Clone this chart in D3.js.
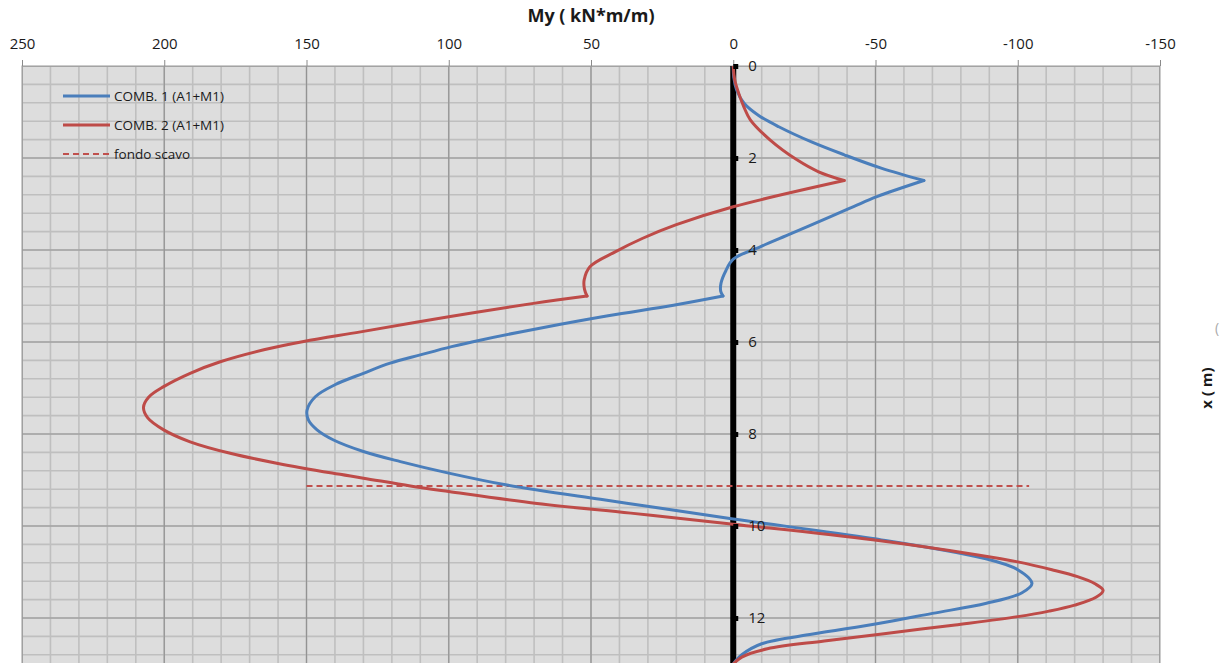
<!DOCTYPE html>
<html>
<head>
<meta charset="utf-8">
<script src="https://cdn.jsdelivr.net/npm/d3@7"></script>
<style>
html,body{margin:0;padding:0;background:#fff;overflow:hidden;}
text{font-family:"Open Sans","Noto Sans",sans-serif;}
</style>
</head>
<body>
<svg id="chart" width="1230" height="663"></svg>
<script>
// ---- data ----
const xTicks = [250, 200, 150, 100, 50, 0, -50, -100, -150];
const yTicks = [0, 2, 4, 6, 8, 10, 12];

const comb1Depth = [0, 0.25, 0.52, 0.81, 1.07, 1.32, 1.65, 1.93, 2.22, 2.49,
  2.84, 3.05, 3.28, 3.64, 3.93, 4.2, 4.45, 4.72, 4.9, 5.0,
  5.2, 5.43, 5.7, 5.96, 6.1, 6.28, 6.46, 6.68, 6.93, 7.19, 7.48, 7.7, 7.91, 8.13, 8.38, 8.6, 8.85, 9.11, 9.42, 9.58, 9.85,
  10.27, 10.7, 10.95, 11.25, 11.45, 11.68, 11.9, 12.12, 12.35, 12.56, 12.8, 13.0];
const comb1My = [0, -0.2, -1.2, -3.8, -8.8, -16, -27.5, -39, -52, -67,
  -50.5, -42.5, -34, -20.5, -9.5, 0, 2.6, 4.3, 4.4, 3.6,
  21, 44, 68, 89, 99, 110, 120.6, 130, 140, 146.9, 149.8, 149.3, 146.3, 140.5, 130, 117, 100, 79.5, 46.7, 29, 0,
  -49, -88, -100, -105, -101.5, -89, -70, -51, -28, -10, -3, 0];
const comb1Corners = [2.49, 5.0];

const comb2Depth = [0, 0.3, 0.59, 0.9, 1.17, 1.61, 2.04, 2.3, 2.49,
  3.06, 3.45, 3.75, 4.04, 4.36, 4.65, 4.85, 5.0,
  5.16, 5.45, 5.78, 5.99, 6.17, 6.43, 6.68, 6.97, 7.2, 7.42, 7.65, 7.91, 8.17, 8.42, 8.64, 8.85, 8.96, 9.13, 9.25, 9.51, 9.72, 9.96,
  10.3, 10.63, 10.78, 10.95, 11.1, 11.25, 11.4, 11.55, 11.72, 11.85, 11.97, 12.15, 12.34, 12.5, 12.67, 12.85, 13.0];
const comb2My = [0, -0.5, -1.9, -3.8, -6, -13, -22.4, -30, -39,
  0, 20, 32, 41.5, 50.3, 52.4, 52.3, 51.4,
  70.2, 100, 131, 151, 165, 180.3, 190.9, 200.2, 205.5, 207.3, 205.8, 200.2, 190.9, 176.8, 160, 141, 130, 113.5, 100, 69, 36, 0,
  -49, -86, -100, -112, -121, -127, -130, -127.5, -120, -111, -100, -78, -53, -32, -12, -3, 0];
const comb2Corners = [2.49, 5.0];

const fondoDepth = [9.13, 9.13];
const fondoMy    = [150, -104];

const legendLabels = ["COMB. 1 (A1+M1)", "COMB. 2 (A1+M1)", "fondo scavo"];
const xTitle = "My ( kN*m/m)";
const yTitle = "x ( m)";

// ---- layout ----
const svg = d3.select("#chart");
const L = 22, R = 1160, T = 66, B = 710;
const x = d3.scaleLinear().domain([250, -150]).range([L, R]);
const y = d3.scaleLinear().domain([0, 14]).range([T, B]);

svg.append("defs").append("clipPath").attr("id","clip")
  .append("rect").attr("x",L).attr("y",T).attr("width",R-L).attr("height",B-T);

svg.append("rect").attr("x",L).attr("y",T).attr("width",R-L).attr("height",B-T).attr("fill","#dddddd");

const grid = svg.append("g").attr("clip-path","url(#clip)");
const xMinor = d3.range(-150, 251, 10);
const yMinor = d3.range(0, 14.01, 0.4);
grid.selectAll(".xm").data(xMinor).join("line")
  .attr("x1",d=>x(d)).attr("x2",d=>x(d)).attr("y1",T).attr("y2",B)
  .attr("stroke","#bfbfbf").attr("stroke-width",1.6);
grid.selectAll(".ym").data(yMinor).join("line")
  .attr("y1",d=>y(d)).attr("y2",d=>y(d)).attr("x1",L).attr("x2",R)
  .attr("stroke","#bfbfbf").attr("stroke-width",1.6);
grid.selectAll(".xM").data(xTicks).join("line")
  .attr("x1",d=>x(d)).attr("x2",d=>x(d)).attr("y1",T).attr("y2",B)
  .attr("stroke","#939393").attr("stroke-width",1.2);
grid.selectAll(".yM").data(d3.range(0, 14.01, 2)).join("line")
  .attr("y1",d=>y(d)).attr("y2",d=>y(d)).attr("x1",L).attr("x2",R)
  .attr("stroke","#939393").attr("stroke-width",1.2);

svg.append("rect").attr("x",L).attr("y",T).attr("width",R-L).attr("height",B-T)
  .attr("fill","none").attr("stroke","#9a9a9a").attr("stroke-width",1);

// top axis
const xAxis = d3.axisTop(x).tickValues(xTicks).tickSize(6).tickPadding(11).tickFormat(d => String(d));
const gx = svg.append("g").attr("transform",`translate(0,${T})`).call(xAxis);
gx.select(".domain").remove();
gx.selectAll(".tick line").attr("stroke","#8a8a8a");
gx.selectAll(".tick text").attr("font-size",15).attr("fill","#1a1a1a")
  .attr("font-family","'Open Sans','Noto Sans',sans-serif");

// thick vertical axis at x=0
const plot = svg.append("g").attr("clip-path","url(#clip)");
plot.append("line").attr("x1",x(0)).attr("x2",x(0)).attr("y1",y(0)).attr("y2",B)
  .attr("stroke","#000").attr("stroke-width",6);

const yAxis = d3.axisRight(y).tickValues(yTicks).tickSize(5).tickPadding(10).tickFormat(d => String(d));
const gy = svg.append("g").attr("transform",`translate(${x(0)},0)`).call(yAxis);
gy.select(".domain").remove();
gy.selectAll(".tick line").attr("stroke","#000").attr("stroke-width",5);
gy.selectAll(".tick text").attr("font-size",15).attr("fill","#1a1a1a")
  .attr("font-family","'Open Sans','Noto Sans',sans-serif");

// series: split at corner depths, smooth within each segment
const zip = (a,b)=>a.map((v,i)=>[v,b[i]]);
const smooth = d3.line().x(d=>x(d[1])).y(d=>y(d[0])).curve(d3.curveCatmullRom.alpha(0.5));
function segments(pts, corners){
  const segs = []; let cur = [];
  pts.forEach(p=>{
    cur.push(p);
    if (corners.includes(p[0])) { segs.push(cur); cur = [p]; }
  });
  if (cur.length > 1) segs.push(cur);
  return segs;
}
function drawSeries(depth, my, corners, color){
  const g = plot.append("g");
  g.selectAll("path").data(segments(zip(depth,my), corners)).join("path")
    .attr("d", smooth).attr("fill","none").attr("stroke",color)
    .attr("stroke-width",3).attr("stroke-linejoin","round").attr("stroke-linecap","round");
}

plot.append("path").datum(zip(fondoDepth, fondoMy))
  .attr("d", d3.line().x(d=>x(d[1])).y(d=>y(d[0])))
  .attr("fill","none").attr("stroke","#c0504d").attr("stroke-width",2).attr("stroke-dasharray","6,4");

drawSeries(comb1Depth, comb1My, comb1Corners, "#4a7ebb");
drawSeries(comb2Depth, comb2My, comb2Corners, "#be4b48");

// legend
const lg = svg.append("g");
const lgItems = [
  {label: legendLabels[0], color:"#4a7ebb", dash:null, w:3},
  {label: legendLabels[1], color:"#be4b48", dash:null, w:3},
  {label: legendLabels[2], color:"#c0504d", dash:"6,4", w:2}
];
lgItems.forEach((it,i)=>{
  const yy = 96 + i*29;
  lg.append("line").attr("x1",63).attr("x2",110).attr("y1",yy).attr("y2",yy)
    .attr("stroke",it.color).attr("stroke-width",it.w).attr("stroke-dasharray",it.dash);
  lg.append("text").attr("x",114).attr("y",yy).attr("dy","0.35em")
    .attr("font-size",13.5).attr("fill","#1a1a1a").text(it.label);
});

// titles
svg.append("text").attr("x",(L+R)/2).attr("y",22).attr("text-anchor","middle")
  .attr("font-size",18).attr("font-weight","bold").attr("fill","#1a1a1a").text(xTitle);
svg.append("text").attr("transform",`translate(1212,${(T+B)/2}) rotate(-90)`)
  .attr("text-anchor","middle").attr("font-size",15).attr("font-weight","bold").attr("fill","#1a1a1a").text(yTitle);
svg.append("text").attr("x",1215).attr("y",333).attr("font-size",14).attr("fill","#aaaaaa").text("(");
</script>
</body>
</html>
